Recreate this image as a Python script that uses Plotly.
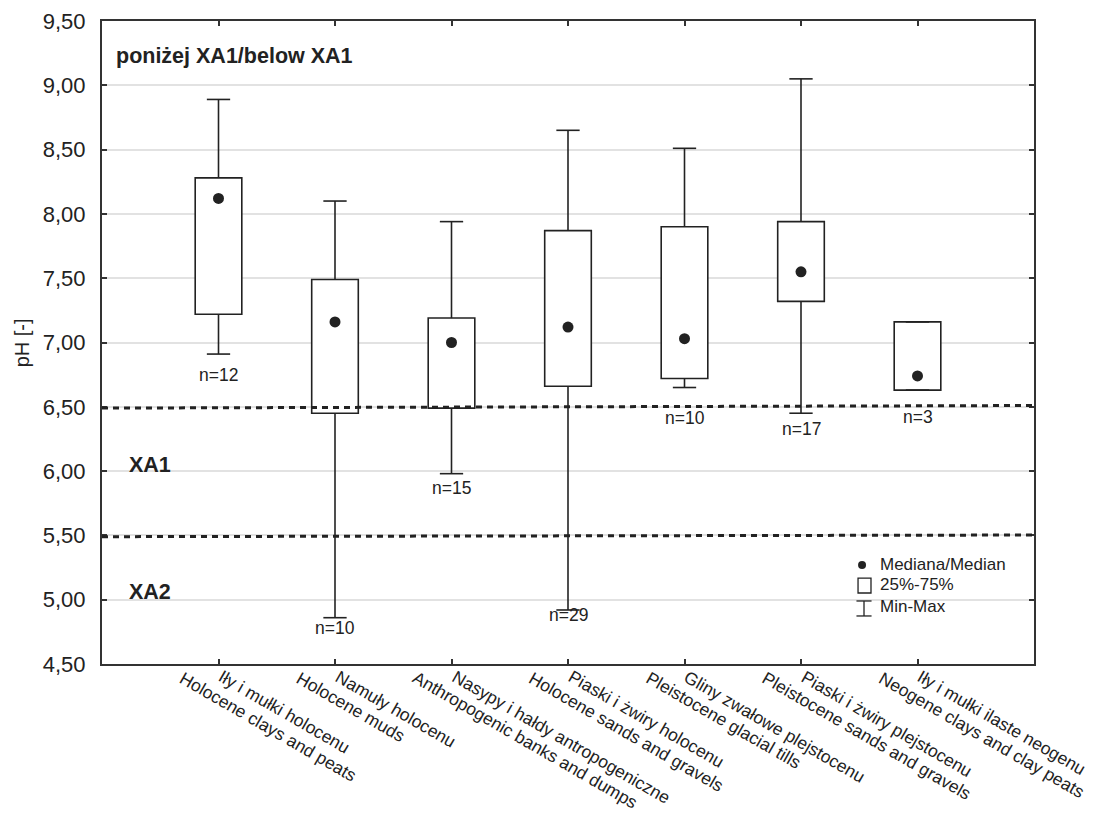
import plotly.graph_objects as go

# pH statistics per lithological unit (below the XA1 threshold)
units_pl = [
    "Iły i mułki holocenu",
    "Namuły holocenu",
    "Nasypy i hałdy antropogeniczne",
    "Piaski i żwiry holocenu",
    "Gliny zwałowe plejstocenu",
    "Piaski i żwiry plejstocenu",
    "Iły i mułki ilaste neogenu",
]
units_en = [
    "Holocene clays and peats",
    "Holocene muds",
    "Anthropogenic banks and dumps",
    "Holocene sands and gravels",
    "Pleistocene glacial tills",
    "Pleistocene sands and gravels",
    "Neogene clays and clay peats",
]
ph_min = [6.91, 4.86, 5.98, 4.92, 6.65, 6.45, 6.63]
ph_q1 = [7.22, 6.45, 6.49, 6.66, 6.72, 7.32, 6.63]
ph_median = [8.12, 7.16, 7.00, 7.12, 7.03, 7.55, 6.74]
ph_q3 = [8.28, 7.49, 7.19, 7.87, 7.90, 7.94, 7.16]
ph_max = [8.89, 8.10, 7.94, 8.65, 8.51, 9.05, 7.16]
n_obs = [12, 10, 15, 29, 10, 17, 3]
n_label_y = [6.75, 4.78, 5.87, 4.88, 6.41, 6.33, 6.42]

# aggressiveness class limits
XA1_LIMIT = 6.5
XA2_LIMIT = 5.5

FONT = "Liberation Sans, Arial, sans-serif"
INK = "#222222"
BOX_HALF = 0.2
CAP_HALF = 0.1

pos = list(range(1, len(units_pl) + 1))

fig = go.Figure()

# interquartile boxes
fig.add_trace(go.Bar(
    x=pos,
    y=[q3 - q1 for q1, q3 in zip(ph_q1, ph_q3)],
    base=ph_q1,
    width=2 * BOX_HALF,
    marker=dict(color="white", line=dict(color=INK, width=1.6)),
    hoverinfo="skip",
    showlegend=False,
))

# whiskers with caps
wx, wy = [], []
for p, lo, q1, q3, hi in zip(pos, ph_min, ph_q1, ph_q3, ph_max):
    wx += [p, p, None, p, p, None]
    wy += [q3, hi, None, lo, q1, None]
    wx += [p - CAP_HALF, p + CAP_HALF, None, p - CAP_HALF, p + CAP_HALF, None]
    wy += [hi, hi, None, lo, lo, None]
fig.add_trace(go.Scatter(
    x=wx, y=wy, mode="lines",
    line=dict(color=INK, width=1.6),
    hoverinfo="skip", showlegend=False,
))

# medians
fig.add_trace(go.Scatter(
    x=pos, y=ph_median, mode="markers",
    marker=dict(color=INK, size=11),
    showlegend=False,
))

# sample counts
for p, n, y in zip(pos, n_obs, n_label_y):
    fig.add_annotation(x=p, y=y, text=f"n={n}", showarrow=False,
                       font=dict(family=FONT, size=17.5, color=INK),
                       xanchor="center", yanchor="middle")

# category labels: slanted Polish name with the English name staggered below
cat_font = dict(family=FONT, size=17.5, color=INK)
for p, pl, en in zip(pos, units_pl, units_en):
    fig.add_annotation(x=p, xref="x", y=0, yref="paper", text=pl,
                       textangle=30, showarrow=False,
                       xanchor="left", yanchor="top",
                       xshift=-6, yshift=0, font=cat_font)
    fig.add_annotation(x=p, xref="x", y=0, yref="paper", text=en,
                       textangle=30, showarrow=False,
                       xanchor="left", yanchor="top",
                       xshift=-45, yshift=-1, font=cat_font)

# class limit lines
dash_style = dict(color=INK, width=3, dash="6px,5px")
fig.add_shape(type="line", xref="paper", yref="y", x0=0, x1=1,
              y0=XA1_LIMIT - 0.01, y1=XA1_LIMIT + 0.01, line=dash_style, layer="above")
fig.add_shape(type="line", xref="paper", yref="y", x0=0, x1=1,
              y0=XA2_LIMIT - 0.01, y1=XA2_LIMIT + 0.003, line=dash_style, layer="above")

# text labels inside the plot area
bold = dict(family=FONT, size=21.5, color=INK)
fig.add_annotation(xref="paper", yref="paper", x=0.013, y=0.946,
                   text="<b>poniżej XA1/below XA1</b>", showarrow=False,
                   xanchor="left", yanchor="middle", font=bold)
fig.add_annotation(xref="paper", yref="paper", x=0.027, y=0.309,
                   text="<b>XA1</b>", showarrow=False,
                   xanchor="left", yanchor="middle", font=bold)
fig.add_annotation(xref="paper", yref="paper", x=0.027, y=0.112,
                   text="<b>XA2</b>", showarrow=False,
                   xanchor="left", yanchor="middle", font=bold)

# y axis title
fig.add_annotation(xref="paper", yref="paper", x=-0.086, y=0.5,
                   text="pH [-]", textangle=-90, showarrow=False,
                   xanchor="center", yanchor="middle",
                   font=dict(family=FONT, size=20, color=INK))

# key
key_font = dict(family=FONT, size=17, color=INK)
fig.add_shape(type="circle", xref="paper", yref="paper",
              xsizemode="pixel", ysizemode="pixel",
              xanchor=0.8155, yanchor=0.154, x0=-4, x1=4, y0=-4, y1=4,
              fillcolor=INK, line=dict(color=INK, width=0))
fig.add_annotation(xref="paper", yref="paper", x=0.8326, y=0.154,
                   text="Mediana/Median", showarrow=False,
                   xanchor="left", yanchor="middle", font=key_font)
fig.add_shape(type="rect", xref="paper", yref="paper",
              x0=0.8112, x1=0.8251, y0=0.1104, y1=0.1337,
              line=dict(color=INK, width=1.3), fillcolor="white")
fig.add_annotation(xref="paper", yref="paper", x=0.8326, y=0.1229,
                   text="25%-75%", showarrow=False,
                   xanchor="left", yanchor="middle", font=key_font)
for seg in [(0.8176, 0.8176, 0.098, 0.0747),
            (0.8095, 0.8257, 0.098, 0.098),
            (0.8095, 0.8257, 0.0747, 0.0747)]:
    fig.add_shape(type="line", xref="paper", yref="paper",
                  x0=seg[0], x1=seg[1], y0=seg[2], y1=seg[3],
                  line=dict(color=INK, width=1.3))
fig.add_annotation(xref="paper", yref="paper", x=0.8326, y=0.0902,
                   text="Min-Max", showarrow=False,
                   xanchor="left", yanchor="middle", font=key_font)

fig.update_layout(
    width=1097, height=814,
    margin=dict(l=102, r=63, t=21, b=150),
    plot_bgcolor="white", paper_bgcolor="white",
    separators=", ",
    showlegend=False,
    font=dict(family=FONT, color=INK),
    barmode="overlay",
)
fig.update_xaxes(
    range=[0, 8], tickmode="array", tickvals=pos, showticklabels=False,
    showgrid=False, zeroline=False, automargin=False,
    showline=True, linecolor="#333333", linewidth=2, mirror="ticks",
    ticks="inside", ticklen=5, tickcolor="#333333", tickwidth=1.5,
)
fig.update_yaxes(
    range=[4.5, 9.5], tickmode="linear", tick0=4.5, dtick=0.5, tickformat=".2f",
    tickfont=dict(family=FONT, size=22, color=INK),
    showgrid=True, gridcolor="#e2e2e2", gridwidth=1.5, zeroline=False,
    automargin=False,
    showline=True, linecolor="#333333", linewidth=2, mirror="ticks",
    ticks="inside", ticklen=5, tickcolor="#333333", tickwidth=1.5,
    ticklabelstandoff=10,
)

fig.write_html("out.html")
